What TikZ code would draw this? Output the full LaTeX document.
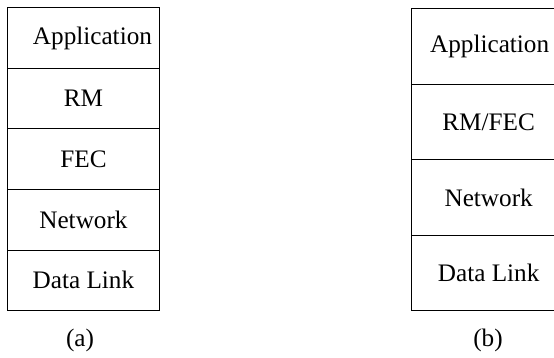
\documentclass[tikz,border=0pt]{standalone}
\usepackage{fontspec}
\setmainfont{Liberation Serif}
\begin{document}
\begin{tikzpicture}[x=1pt,y=-1pt,
  cell/.style={draw=black,line width=0.9pt,minimum width=#1,inner sep=0pt,anchor=north west,font=\fontsize{25.2}{28}\selectfont},
  lbl/.style={font=\fontsize{25.2}{28}\selectfont}]
\useasboundingbox (0,0) rectangle (554,358);
\begin{scope}
\clip (0,0) rectangle (554,358);
% left stack (a)
\node[cell=151.4pt,minimum height=60.5pt] (a1) at (7.3,7.5) {};
\node[cell=151.4pt,minimum height=60.5pt] (a2) at (7.3,68) {};
\node[cell=151.4pt,minimum height=60.5pt] (a3) at (7.3,128.5) {};
\node[cell=151.4pt,minimum height=60.5pt] (a4) at (7.3,189) {};
\node[cell=151.4pt,minimum height=60.5pt] (a5) at (7.3,249.5) {};
\node[lbl] (ta1) at ([xshift=9pt]a1.center) {Application};
\node[lbl] (ta2) at (a2.center) {RM};
\node[lbl] (ta3) at (a3.center) {FEC};
\node[lbl] (ta4) at (a4.center) {Network};
\node[lbl] (ta5) at (a5.center) {Data Link};
\node[lbl] (la) at (80,340) {(a)};
% right stack (b)
\node[cell=155pt,minimum height=75.5pt] (b1) at (410.7,8.3) {};
\node[cell=155pt,minimum height=75.5pt] (b2) at (410.7,83.8) {};
\node[cell=155pt,minimum height=75.5pt] (b3) at (410.7,159.3) {};
\node[cell=155pt,minimum height=75.5pt] (b4) at (410.7,234.8) {};
\node[lbl] (tb1) at ([xshift=1pt]b1.center) {Application};
\node[lbl] (tb2) at (b2.center) {RM/FEC};
\node[lbl] (tb3) at (b3.center) {Network};
\node[lbl] (tb4) at (b4.center) {Data Link};
\node[lbl] (lb) at (488,340) {(b)};
\end{scope}
\end{tikzpicture}
\end{document}
